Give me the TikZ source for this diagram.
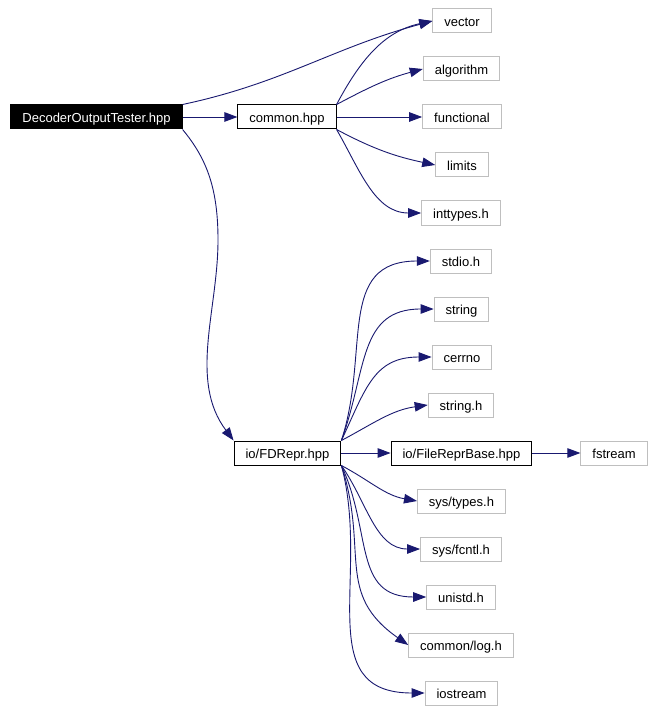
\documentclass[tikz,border=0pt]{standalone}
\usepackage{fontspec}
\setmainfont{Liberation Sans}
\usetikzlibrary{arrows.meta,positioning}
\definecolor{edgeblue}{HTML}{191970}
\definecolor{boxgray}{HTML}{BFBFBF}
\tikzset{
  filebox/.style = {draw=black, line width=1pt, fill=white, inner xsep=11.5pt,
                    inner ysep=0pt, minimum height=24pt,
                    text height=12.5pt, text depth=1.5pt,
                    font=\fontsize{13}{15}\selectfont},
  sysbox/.style  = {filebox, draw=boxgray},
  rootbox/.style = {filebox, fill=black, text=white},
  dep/.style     = {-{Triangle[length=13pt,width=9.5pt]}, line width=0.9pt, color=edgeblue},
}

\begin{document}
\begin{tikzpicture}[x=1pt,y=1pt]
  \fill[white] (0,0) rectangle (655,-711);
  \useasboundingbox (0,0) rectangle (655,-711);

  % ---- files -------------------------------------------------------------
  \node[rootbox] (dot)    at (96.5,-117) {DecoderOutputTester.hpp};
  \node[filebox] (common) at (287,-117)  {common.hpp};
  \node[filebox] (fdrepr) at (287.5,-453) {io/FDRepr.hpp};
  \node[filebox] (frbase) at (461.5,-453) {io/FileReprBase.hpp};
  \node[sysbox, right=48pt of frbase] (fstream) {fstream};

  % ---- system headers ----------------------------------------------------
  \node[sysbox] (vector)     at (462,-21)  {vector};
  \node[sysbox] (algorithm)  at (461.5,-69) {algorithm};
  \node[sysbox] (functional) at (462,-117) {functional};
  \node[sysbox] (limits)     at (462,-165) {limits};
  \node[sysbox] (inttypes)   at (461,-213) {inttypes.h};
  \node[sysbox] (stdio)      at (461,-261) {stdio.h};
  \node[sysbox] (string)     at (461.5,-309) {string};
  \node[sysbox] (cerrno)     at (462,-357) {cerrno};
  \node[sysbox] (stringh)    at (461,-405) {string.h};
  \node[sysbox] (systypes)   at (461.5,-501) {sys/types.h};
  \node[sysbox] (sysfcntl)   at (461,-549) {sys/fcntl.h};
  \node[sysbox] (unistd)     at (461,-597) {unistd.h};
  \node[sysbox] (commonlog)  at (461,-645) {common/log.h};
  \node[sysbox] (iostream)   at (461.5,-693) {iostream};

  % ---- includes of the root ----------------------------------------------
  \draw[dep] (dot.north east) to[out=12,in=195] (vector.west);
  \draw[dep] (dot.east) -- (common.west);
  \draw[dep] (dot.south east) .. controls +(25,-30) and +(0,50) .. (218,-240)
                              .. controls +(0,-70) and +(-45,60) .. (fdrepr.north west);

  % ---- includes of common.hpp --------------------------------------------
  \draw[dep] (common.north east) to[out=62,in=192] (vector.west);
  \draw[dep] (common.north east) to[out=28,in=195] (algorithm.west);
  \draw[dep] (common.east) -- (functional.west);
  \draw[dep] (common.south east) to[out=-28,in=168] (limits.west);
  \draw[dep] (common.south east) to[out=-60,in=180] (inttypes.west);

  % ---- includes of io/FDRepr.hpp -----------------------------------------
  \draw[dep] (fdrepr.north east) to[out=72,in=180,looseness=1.2] (stdio.west);
  \draw[dep] (fdrepr.north east) to[out=70,in=180,looseness=1.2] (string.west);
  \draw[dep] (fdrepr.north east) to[out=65,in=180,looseness=1.2] (cerrno.west);
  \draw[dep] (fdrepr.north east) to[out=28,in=188] (stringh.west);
  \draw[dep] (fdrepr.east) -- (frbase.west);
  \draw[dep] (frbase.east) -- (fstream.west);
  \draw[dep] (fdrepr.south east) to[out=-28,in=170] (systypes.west);
  \draw[dep] (fdrepr.south east) to[out=-55,in=180] (sysfcntl.west);
  \draw[dep] (fdrepr.south east) to[out=-65,in=180,looseness=1.2] (unistd.west);
  \draw[dep] (fdrepr.south east) to[out=-72,in=145,looseness=1.2] (commonlog.west);
  \draw[dep] (fdrepr.south east) to[out=-75,in=180,looseness=1.2] (iostream.west);
\end{tikzpicture}
\end{document}
